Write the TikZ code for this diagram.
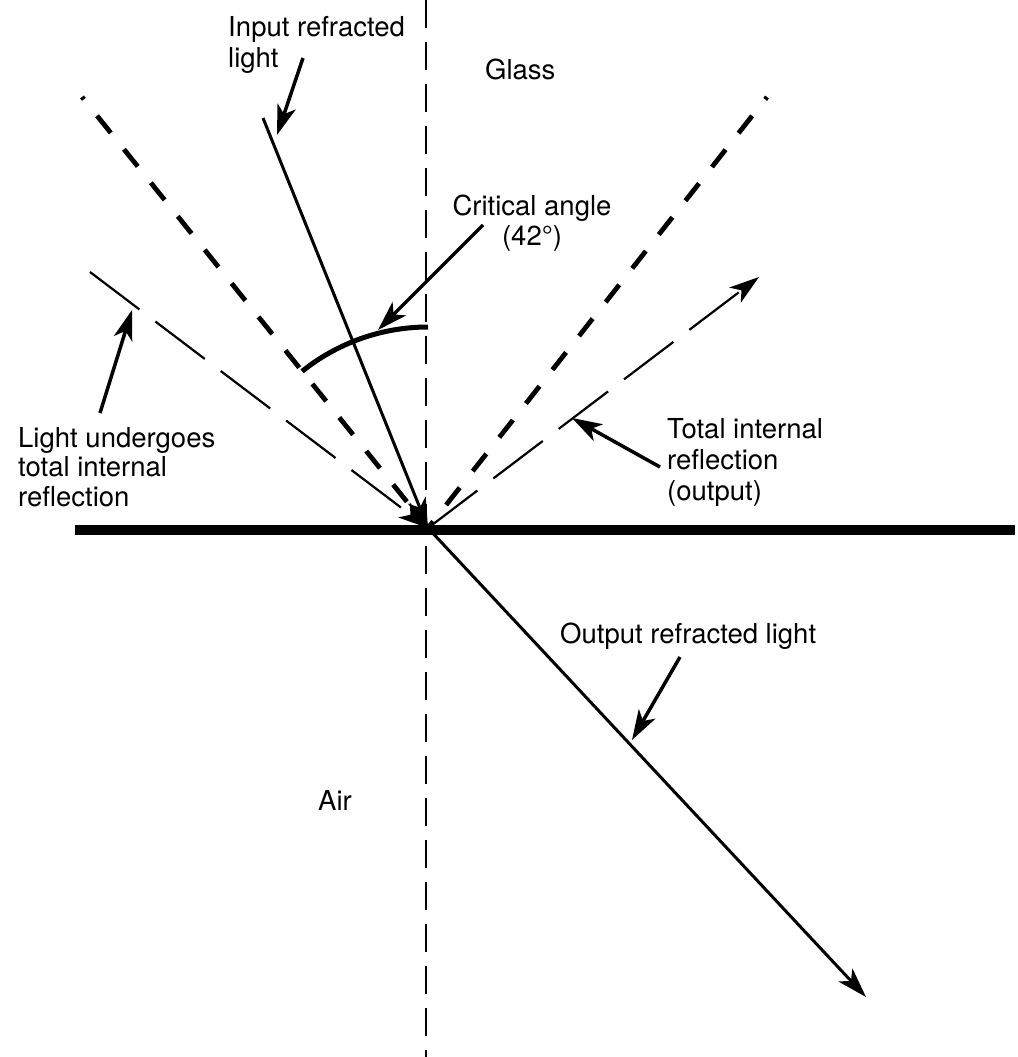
\documentclass[tikz,border=0pt]{standalone}
\usepackage{fontspec}
\setmainfont{TeX Gyre Heros}
\usetikzlibrary{arrows.meta}

\begin{document}
\begin{tikzpicture}[x=1pt,y=-1pt,
  font=\fontsize{27.5}{31}\selectfont,
  lbl/.style={inner sep=0pt,align=left,anchor=north west},
  tip/.style={-{Stealth[length=30pt,width=19pt,inset=8pt]}},
  ray/.style={line width=3pt},
  callout/.style={line width=3.5pt,tip},
  normalline/.style={line width=2.6pt,dash pattern=on 28pt off 14pt},
  critical/.style={line width=4.8pt,dash pattern=on 22pt off 21pt,dash phase=19pt},
  tirline/.style={line width=2.2pt,dash pattern=on 62pt off 20pt}]
\useasboundingbox (0,0) rectangle (1017,1057);
\coordinate (O) at (428,528);
\coordinate (surfL) at (75,530);
\coordinate (surfR) at (1015,530);
\coordinate (nTop) at (426,0);
\coordinate (nBot) at (426,1057);
\coordinate (inA) at (263,118);
\coordinate (critL) at (82,97);
\coordinate (critR) at (767,97);
\coordinate (tirL) at (90,272);
\coordinate (tirR) at (759,277);
\coordinate (outA) at (866,997);
\draw[normalline] (nTop) -- (nBot);
\draw[line width=10pt] (surfL) -- (surfR);
\draw[critical] (critL) -- (O);
\draw[critical] (critR) -- (O);
\draw[tirline,tip] (tirL) -- (O);
\draw[tirline,tip] (O) -- (tirR);
\draw[ray,tip] (inA) -- (O);
\draw[ray,tip] (O) -- (outA);
\draw[line width=5pt] (O) ++(90:201pt) arc[start angle=90,end angle=128.8,radius=201pt];

\node[lbl] (inLbl) at (228,16) {Input refracted\\light};
\node[lbl] (glassLbl) at (485,59) {Glass};
\node[lbl,align=center,anchor=north] (critLbl) at (532,195) {Critical angle\\[-1pt](42°)};
\node[lbl] (tirOutLbl) at (667,418) {Total internal\\reflection\\(output)};
\node[lbl,font=\fontsize{27.5}{29.5}\selectfont] (tirInLbl) at (18,427) {Light undergoes\\total internal\\reflection};
\node[lbl,anchor=base west] (outLbl) at (560,643) {Output refracted light};
\node[lbl,anchor=base west] (airLbl) at (318,810) {Air};

\coordinate (inT) at (303,58);   \coordinate (inH) at (277,135);
\coordinate (critT) at (483,225); \coordinate (critH) at (378,330);
\coordinate (tirInT) at (100,413); \coordinate (tirInH) at (132,310);
\coordinate (tirOutT) at (660,467); \coordinate (tirOutH) at (572,418);
\coordinate (outT) at (680,657);  \coordinate (outH) at (632,740);
\draw[callout] (inT) -- (inH);
\draw[callout] (critT) -- (critH);
\draw[callout] (tirInT) -- (tirInH);
\draw[callout] (tirOutT) -- (tirOutH);
\draw[callout] (outT) -- (outH);
\end{tikzpicture}
\end{document}
